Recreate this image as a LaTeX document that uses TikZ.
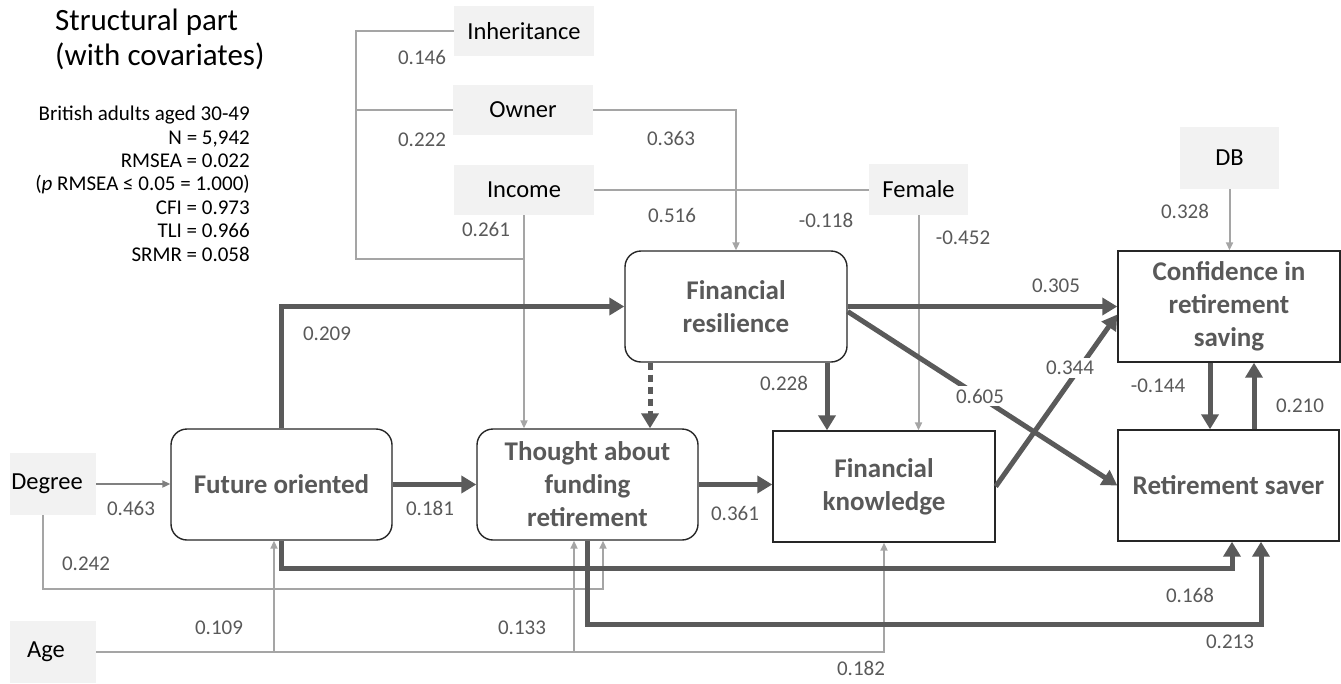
\documentclass[tikz,border=0pt]{standalone}
\usepackage{fontspec}
\setmainfont{Carlito}
\usetikzlibrary{arrows.meta,calc}
\definecolor{dg}{HTML}{5A5A5A}
\definecolor{lg}{HTML}{A5A5A5}
\definecolor{mg}{HTML}{808080}
\definecolor{covfill}{HTML}{F2F2F2}
\definecolor{txtg}{HTML}{595959}
\definecolor{bord}{HTML}{262626}
\begin{document}
\begin{tikzpicture}[x=1pt,y=-1pt,
  cov/.style={fill=covfill,draw=none,minimum width=140pt,minimum height=50pt,inner sep=0pt,
    font=\fontsize{24.5}{29}\selectfont,text=black},
  latbox/.style={draw=bord,line width=1.4pt,fill=white,rounded corners=16pt,minimum width=221pt,minimum height=111pt,
    align=center,inner sep=0pt,font=\fontsize{27}{33}\selectfont\bfseries,text=txtg},
  obsbox/.style={draw=bord,line width=1.4pt,fill=white,minimum width=222pt,minimum height=111pt,
    align=center,inner sep=0pt,font=\fontsize{27}{33}\selectfont\bfseries,text=txtg},
  thk/.style={line width=5pt,draw=dg,-{Triangle[length=15pt,width=17pt]}},
  thkdash/.style={line width=5pt,draw=dg,dash pattern=on 7pt off 5pt,-{Triangle[length=15pt,width=17pt]}},
  thn/.style={line width=2pt,draw=lg,-{Triangle[length=8pt,width=7pt]}},
  thnl/.style={line width=2pt,draw=lg},
  midarr/.style={line width=2pt,draw=mg,-{Triangle[length=8pt,width=7pt]}},
  lbl/.style={font=\fontsize{21}{25}\selectfont,text=txtg,inner sep=1pt},
  lblw/.style={lbl,fill=white,inner sep=3pt}
]
\useasboundingbox (0,0) rectangle (1341,683);

% title and stats
\node[anchor=north west,inner sep=0pt,align=left,font=\fontsize{31}{35}\selectfont] (title) at (55,9)
  {Structural part\\(with covariates)};
\node[anchor=north east,inner sep=0pt,align=right,font=\fontsize{21}{23.4}\selectfont] (stats) at (250,106)
  {British adults aged 30-49\\N = 5,942\\RMSEA = 0.022\\(\textit{p} RMSEA ≤ 0.05 = 1.000)\\CFI = 0.973\\TLI = 0.966\\SRMR = 0.058};

% covariates
\node[cov] (inh) at (524,31) {Inheritance};
\node[cov] (own) at (523,110) {Owner};
\node[cov] (inc) at (524,190) {Income};
\node[cov,minimum width=99pt,minimum height=51pt] (fem) at (918.5,189.5) {Female};
\node[cov,minimum width=99pt,minimum height=62pt] (db) at (1229.5,158) {DB};
\node[cov,minimum width=86pt,minimum height=62pt] (deg) at (53,484) {Degree\hspace*{12pt}};
\node[cov,minimum width=86pt,minimum height=62pt] (age) at (53,652) {Age\hspace*{14pt}};

% main constructs
\node[latbox] (fut) at (281.5,484.5) {Future oriented};
\node[latbox] (tho) at (587.5,484.5) {Thought about\\funding\\retirement};
\node[latbox,minimum width=222pt] (fr) at (736,306.5) {Financial\\resilience};
\node[obsbox] (kn) at (884,486.5) {Financial\\knowledge};
\node[obsbox] (conf) at (1229,306.5) {Confidence in\\retirement\\saving};
\node[obsbox,minimum width=221pt] (rs) at (1228.5,485.5) {Retirement saver};

% thin covariate paths
\coordinate (bk) at (356,259);
\draw[thnl] (inh.west) -| (bk) -- (bk -| inc.south);
\draw[thnl] (own.west) -- (own.west -| bk);
\draw[thn] (inc.south) -- (inc.south |- tho.north);
\draw[thn] (own.east) -| (fr.north);
\draw[thnl] (inc.east) -- (inc.east -| fem.west);
\draw[thn] (fem.south) -- (fem.south |- kn.north);
\draw[thn] (db.south) -- (db.south |- conf.north);
\draw[midarr] (deg.east) -- (deg.east -| fut.west);
\draw[thn] ($(deg.south)+(-10,0)$) -- ++(0,74) -| ($(tho.south)+(15.5,0)$);
\draw[thn] (age.east) -| (kn.south);
\coordinate (a1) at (274,652);
\coordinate (a2) at (574,652);
\draw[thn] (a1) -- (a1 |- fut.south);
\draw[thn] (a2) -- (a2 |- tho.south);

% thick structural paths
\draw[thk] (fut.north) |- (fr.west);
\draw[thk] (fut.east) -- (tho.west);
\draw[thk] (tho.east) -- (tho.east -| kn.west);
\draw[thk] ($(fr.south)+(91,0)$) -- ($(kn.north)+(-57,0)$);
\draw[thkdash] ($(fr.south)+(-86,0)$) -- ($(tho.north)+(62.5,0)$);
\draw[thk] (fr.east) -- (conf.west);
\draw[thk] ($(fr.east)+(0,5)$) -- (rs.west);
\draw[thk] (kn.east) -- ($(conf.west)+(0,8)$);
\draw[thk] ($(conf.south)+(-19,0)$) -- ($(rs.north)+(-18.5,0)$);
\draw[thk] ($(rs.north)+(25.5,0)$) -- ($(conf.south)+(25,0)$);
\draw[thk] (fut.south) -- ++(0,28) -| ($(rs.south)+(3.5,0)$);
\draw[thk] (tho.south) -- ++(0,84) -| ($(rs.south)+(32.5,0)$);

% labels
\node[lbl] (l1) at (422,57) {0.146};
\node[lbl] (l2) at (422,140) {0.222};
\node[lbl] (l3) at (671,138) {0.363};
\node[lbl] (l4) at (672,215) {0.516};
\node[lbl] (l5) at (486,229) {0.261};
\node[lbl] (l6) at (826,220) {-0.118};
\node[lbl] (l7) at (963,238) {-0.452};
\node[lbl] (l8) at (1185,211) {0.328};
\node[lbl] (l9) at (1056,286) {0.305};
\node[lbl] (l10) at (327,334) {0.209};
\node[lbl] (l11) at (784,383) {0.228};
\node[lblw] (l12) at (1070,368) {0.344};
\node[lblw] (l13) at (980,396) {0.605};
\node[lbl] (l14) at (1158,386) {-0.144};
\node[lbl] (l15) at (1300,406) {0.210};
\node[lbl] (l16) at (131,508) {0.463};
\node[lbl] (l17) at (430,508) {0.181};
\node[lbl] (l18) at (735,513) {0.361};
\node[lbl] (l19) at (86,564) {0.242};
\node[lbl] (l20) at (1190,595) {0.168};
\node[lbl] (l21) at (219,628) {0.109};
\node[lbl] (l22) at (522,628) {0.133};
\node[lbl] (l23) at (1230,642) {0.213};
\node[lbl] (l24) at (861,668) {0.182};
\end{tikzpicture}
\end{document}
